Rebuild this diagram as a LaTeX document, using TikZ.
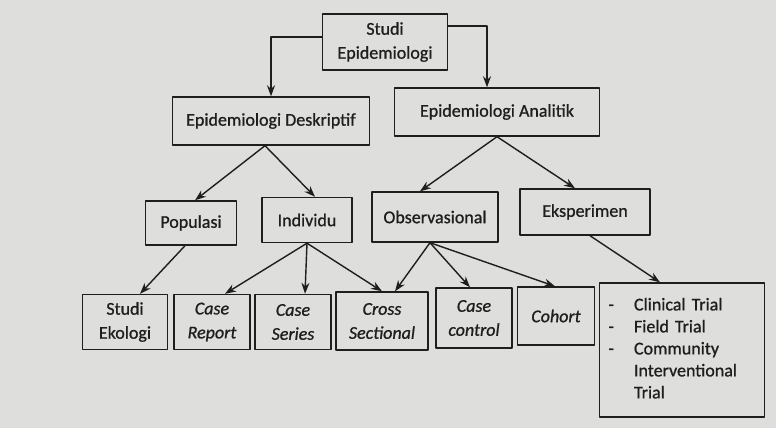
\documentclass[tikz,border=0pt]{standalone}
\usepackage{fontspec}
\setmainfont{Carlito}[FakeBold=0.9]
\usetikzlibrary{arrows.meta}
\definecolor{kertas}{RGB}{222,222,220}
\definecolor{tinta}{RGB}{30,30,30}
\begin{document}
\begin{tikzpicture}[x=1pt,y=-1pt,>={Stealth[length=11pt,width=8pt]}, font=\fontsize{18}{24}\selectfont, line join=round,
	kotak/.style={draw=tinta, line width=1.4pt, align=center, inner sep=0pt, minimum height=46pt, text=tinta},
	panah/.style={->, line width=1.4pt, draw=tinta}]
	\fill[kertas] (0,0) rectangle (776,428); % latar
	% tingkat 1-2
	\node[kotak, minimum width=125pt, minimum height=56pt] (studi) at (385,42) {Studi\\Epidemiologi};
	\node[kotak, minimum width=197pt, minimum height=48pt] (deskr) at (271,121) {Epidemiologi Deskriptif};
	\node[kotak, minimum width=205pt, minimum height=48pt] (analit) at (497,112) {Epidemiologi Analitik};
	% tingkat 3
	\node[kotak, minimum width=91pt, minimum height=44pt] (populasi) at (191,223) {Populasi};
	\node[kotak, minimum width=90pt, minimum height=45pt] (individu) at (307,220) {Individu};
	\node[kotak, minimum width=126pt, minimum height=50pt] (observ) at (435,217) {Observasional};
	\node[kotak, minimum width=130pt, minimum height=46pt] (eksper) at (585,212) {Eksperimen};
	% tingkat 4
	\node[kotak, minimum width=85pt, minimum height=55pt] (ekologi) at (125,322) {Studi\\Ekologi};
	\node[kotak, minimum width=76pt, minimum height=55pt] (report) at (212,322) {\itshape Case\\\itshape Report};
	\node[kotak, minimum width=76pt, minimum height=55pt] (series) at (293,322) {\itshape Case\\\itshape Series};
	\node[kotak, minimum width=92pt, minimum height=58pt] (cross) at (382,321) {\itshape Cross\\\itshape Sectional};
	\node[kotak, minimum width=76pt, minimum height=60pt] (control) at (474,318) {\itshape Case\\\itshape control};
	\node[kotak, minimum width=77pt, minimum height=58pt] (cohort) at (556,316) {\itshape Cohort};
	\node[kotak, minimum width=165pt, minimum height=134pt, text width=147pt, inner xsep=9pt, align=left, font=\fontsize{18}{22}\selectfont] (trial) at (682,350)
		{\begin{tabular}{@{}l@{\hspace{20pt}}l@{}}-&Clinical Trial\\-&Field Trial\\-&Community\\&Interventional\\&Trial\end{tabular}};
	% panah
	\draw[panah] ([yshift=5pt]studi.west) -| (deskr.north);
	\draw[panah] ([yshift=16pt]studi.east) -| ([xshift=-10pt]analit.north);
	\draw[panah] ([xshift=-6pt]deskr.south) -- ([xshift=4pt]populasi.north);
	\draw[panah] ([xshift=-6pt]deskr.south) -- ([xshift=8pt]individu.north);
	\draw[panah] (analit.south) -- ([xshift=-15pt]observ.north);
	\draw[panah] (analit.south) -- ([xshift=-10pt]eksper.north);
	\draw[panah] ([xshift=-6pt]populasi.south) -- ([xshift=15pt]ekologi.north);
	\draw[panah] (individu.south) -- ([xshift=13pt]report.north);
	\draw[panah] (individu.south) -- ([xshift=12pt]series.north);
	\draw[panah] (individu.south) -- (cross.north);
	\draw[panah] ([xshift=-5pt]observ.south) -- ([xshift=13pt]cross.north);
	\draw[panah] ([xshift=-5pt]observ.south) -- ([xshift=-4pt]control.north);
	\draw[panah] ([xshift=-5pt]observ.south) -- ([xshift=-1pt]cohort.north);
	\draw[panah] ([xshift=5pt]eksper.south) -- ([xshift=-22pt]trial.north);
\end{tikzpicture}
\end{document}
